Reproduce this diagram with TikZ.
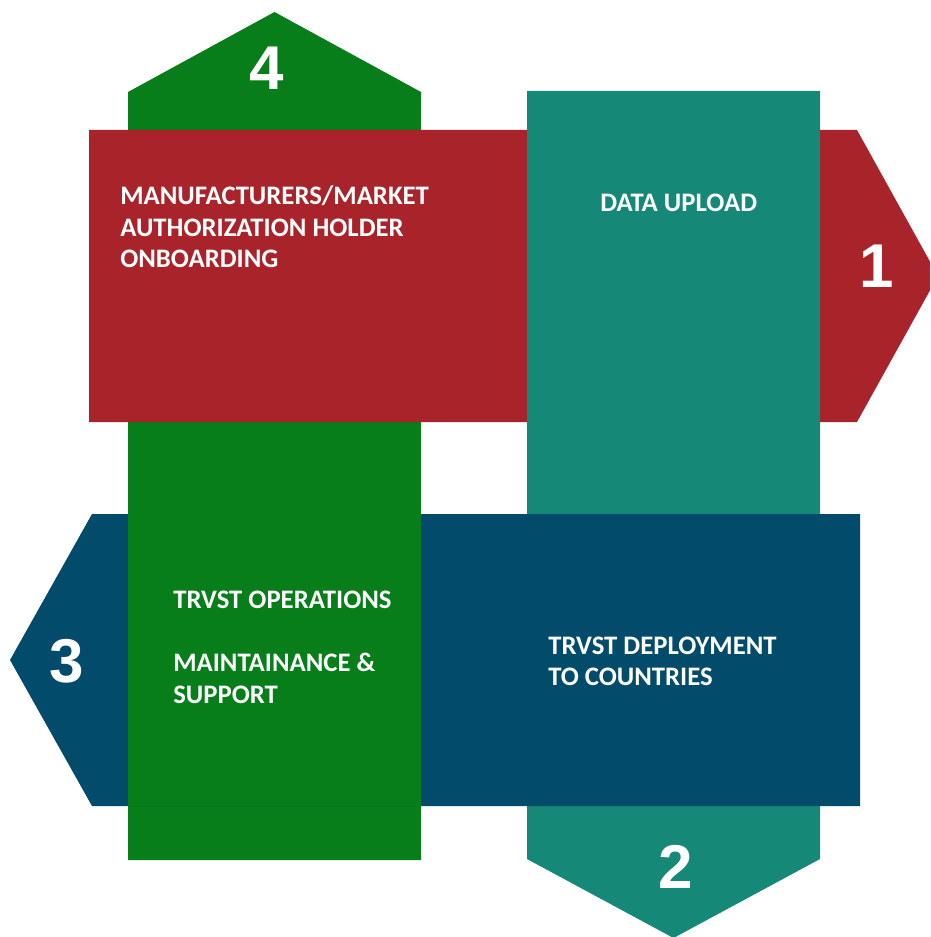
\documentclass[tikz,border=0pt]{standalone}
\usepackage{fontspec}
\setmainfont{Carlito}
\newfontfamily\numfont{Liberation Sans}
\definecolor{stepred}{RGB}{168,35,42}
\definecolor{stepteal}{RGB}{21,136,120}
\definecolor{stepblue}{RGB}{2,75,107}
\definecolor{stepgreen}{RGB}{7,126,26}
\begin{document}
\begin{tikzpicture}[x=0.025cm,y=-0.025cm,
   steptext/.style={anchor=base west,inner sep=0pt,align=left,text=white,
     font=\fontsize{19}{22.4}\selectfont\bfseries},
   stepnum/.style={anchor=base,inner sep=0pt,text=white,
     font=\numfont\fontsize{44}{44}\selectfont\bfseries}]
   \useasboundingbox (0,0) rectangle (930,937);
   \clip (0,0) rectangle (930,937);
   % Green (4)
   \fill[stepgreen] (128,860) -- (128,92) -- (274.5,12) -- (421,92) -- (421,860) -- cycle;
   % Red (1)
   \fill[stepred] (89,130) -- (857,130) -- (938,276) -- (857,422) -- (89,422) -- cycle;
   % Teal (2)
   \fill[stepteal] (527,91) -- (820,91) -- (820,859) -- (673.5,938) -- (527,859) -- cycle;
   % Blue (3)
   \fill[stepblue] (860,514) -- (92,514) -- (10,660) -- (92,806) -- (860,806) -- cycle;
   % Green again over blue
   \fill[stepgreen] (128,514) rectangle (421,806);
   % Texts (base = last line)
   \node[steptext] (onboard) at (120,268) {MANUFACTURERS/MARKET\\AUTHORIZATION HOLDER\\ONBOARDING};
   \node[steptext] (upload) at (600,212) {DATA UPLOAD};
   \node[steptext] (deploy) at (548,685.5) {TRVST DEPLOYMENT\\TO COUNTRIES};
   \node[steptext] (operate) at (173,703) {TRVST OPERATIONS\\[22.4pt]MAINTAINANCE \&\\SUPPORT};
   % Numbers
   \node[stepnum] (n1) at (877,288) {1};
   \node[stepnum] (n2) at (676,888) {2};
   \node[stepnum] (n3) at (67,682) {3};
   \node[stepnum] (n4) at (267,90) {4};
 \end{tikzpicture}
\end{document}
